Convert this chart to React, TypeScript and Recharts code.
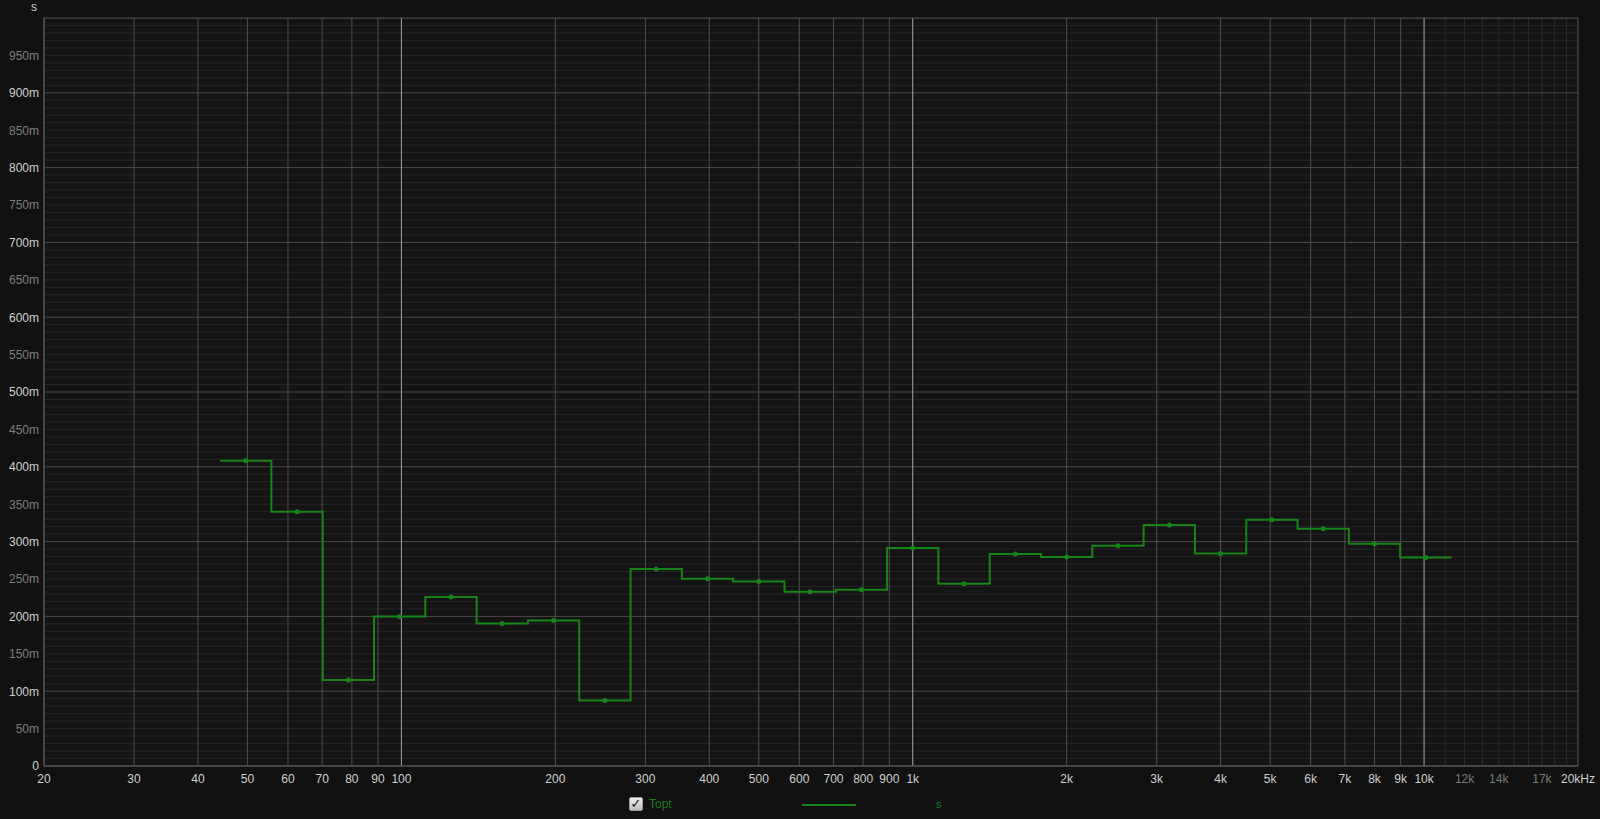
import React from "react";
import {
  ComposedChart,
  Line,
  XAxis,
  YAxis,
  ReferenceLine,
  ReferenceArea,
} from "recharts";

// 1/3-octave band centre frequencies (nominal, Hz)
const bandCenters = [
  50, 63, 80, 100, 125, 160, 200, 250, 315, 400, 500, 630, 800, 1000, 1250,
  1600, 2000, 2500, 3150, 4000, 5000, 6300, 8000, 10000,
];

// Topt values (seconds)
const toptValues = [
  0.408, 0.34, 0.115, 0.2, 0.226, 0.1905, 0.1945, 0.0875, 0.2635, 0.2503,
  0.2467, 0.2329, 0.2356, 0.2914, 0.2436, 0.2834, 0.2794, 0.2945, 0.3222,
  0.2842, 0.3293, 0.3173, 0.2972, 0.2788,
];

// X ticks and labels
const xTicks = [
  20, 30, 40, 50, 60, 70, 80, 90, 100, 200, 300, 400, 500, 600, 700, 800, 900,
  1000, 2000, 3000, 4000, 5000, 6000, 7000, 8000, 9000, 10000, 12000, 14000,
  17000, 20000,
];
const xTickLabels = [
  "20", "30", "40", "50", "60", "70", "80", "90", "100", "200", "300", "400",
  "500", "600", "700", "800", "900", "1k", "2k", "3k", "4k", "5k", "6k", "7k",
  "8k", "9k", "10k", "12k", "14k", "17k", "20kHz",
];
const xDimTicks = [12000, 14000, 17000];

// Y ticks and labels
const yTicks = [
  0, 0.05, 0.1, 0.15, 0.2, 0.25, 0.3, 0.35, 0.4, 0.45, 0.5, 0.55, 0.6, 0.65,
  0.7, 0.75, 0.8, 0.85, 0.9, 0.95,
];
const yTickLabels = [
  "0", "50m", "100m", "150m", "200m", "250m", "300m", "350m", "400m", "450m",
  "500m", "550m", "600m", "650m", "700m", "750m", "800m", "850m", "900m",
  "950m",
];

// Grid line positions
const vBrightGrid = [100, 1000, 10000];
const vGrid = [
  30, 40, 50, 60, 70, 80, 90, 200, 300, 400, 500, 600, 700, 800, 900, 2000,
  3000, 4000, 5000, 6000, 7000, 8000, 9000,
];
const vMinorGrid = [11000, 12000, 13000, 14000, 15000, 16000, 17000, 18000, 19000];
const hMajorGrid = [0.1, 0.2, 0.3, 0.4, 0.5, 0.6, 0.7, 0.8, 0.9];
const hMinorGrid: number[] = [];
for (let i = 1; i < 100; i++) {
  if (i % 10 !== 0) hMinorGrid.push(i / 100);
}

// Exact (base-2) 1/3-octave band frequencies for the nominal centres
const bandIndex = (c: number) => Math.round(3 * Math.log2(c / 1000));
const exactCenter = (c: number) => 1000 * Math.pow(2, bandIndex(c) / 3);

// Derived series: step outline and band-centre dots
const stepData: { f: number; v: number }[] = [];
bandCenters.forEach((c, i) => {
  const k = bandIndex(c);
  const lo = 1000 * Math.pow(2, (k - 0.5) / 3);
  const hi = 1000 * Math.pow(2, (k + 0.5) / 3);
  stepData.push({ f: lo, v: toptValues[i] });
  stepData.push({ f: hi, v: toptValues[i] });
});
const dotData = bandCenters.map((c, i) => ({ f: exactCenter(c), v: toptValues[i] }));

const GREEN = "#168516";
const FONT = "'Liberation Sans', Arial, sans-serif";

const XTick = (props: any) => {
  const { x, y, payload } = props;
  const idx = xTicks.indexOf(payload.value);
  const label = idx >= 0 ? xTickLabels[idx] : String(payload.value);
  const dim = xDimTicks.includes(payload.value);
  return (
    <text
      x={x}
      y={y}
      dy="0.71em"
      textAnchor="middle"
      fill={dim ? "#7a7a7a" : "#cfcfcf"}
      fontSize={12}
      fontFamily={FONT}
    >
      {label}
    </text>
  );
};

const YTick = (props: any) => {
  const { x, y, payload } = props;
  const idx = yTicks.findIndex((t) => Math.abs(t - payload.value) < 1e-9);
  const label = idx >= 0 ? yTickLabels[idx] : String(payload.value);
  const odd = idx % 2 === 1;
  return (
    <text
      x={x}
      y={y}
      dy="0.36em"
      textAnchor="end"
      fill={odd ? "#7e7e7e" : "#cfcfcf"}
      fontSize={12}
      fontFamily={FONT}
    >
      {label}
    </text>
  );
};

export default function App() {
  return (
    <div
      style={{
        position: "absolute",
        left: 0,
        top: 0,
        width: 1600,
        height: 819,
        background: "#111111",
        fontFamily: FONT,
        overflow: "hidden",
      }}
    >
      <ComposedChart
        width={1600}
        height={819}
        margin={{ top: 18, right: 22, bottom: 28, left: 0 }}
      >
        <XAxis
          xAxisId={0}
          type="number"
          dataKey="f"
          scale="log"
          domain={[20, 20000]}
          allowDataOverflow
          ticks={xTicks}
          interval={0}
          tick={<XTick />}
          tickLine={false}
          tickSize={6}
          tickMargin={2}
          axisLine={{ stroke: "#575757" }}
          height={25}
        />
        <YAxis
          yAxisId={0}
          type="number"
          domain={[0, 1]}
          allowDataOverflow
          ticks={yTicks}
          interval={0}
          tick={<YTick />}
          tickLine={false}
          tickSize={3}
          tickMargin={2}
          axisLine={{ stroke: "#575757" }}
          width={44}
        />
        <ReferenceArea
          x1={20}
          x2={20000}
          y1={0}
          y2={1}
          fill="#141414"
          fillOpacity={1}
          stroke="none"
        />
        {hMinorGrid.map((v) => (
          <ReferenceLine key={"hm" + v} y={v} stroke="#262626" strokeWidth={1} />
        ))}
        {vMinorGrid.map((f) => (
          <ReferenceLine key={"vm" + f} x={f} stroke="#2c2c2c" strokeWidth={1} />
        ))}
        {hMajorGrid.map((v) => (
          <ReferenceLine key={"hM" + v} y={v} stroke="#4a4a4a" strokeWidth={1} />
        ))}
        {vGrid.map((f) => (
          <ReferenceLine key={"vg" + f} x={f} stroke="#4e4e4e" strokeWidth={1} />
        ))}
        {vBrightGrid.map((f) => (
          <ReferenceLine key={"vb" + f} x={f} stroke="#a8a8a8" strokeWidth={1} />
        ))}
        <ReferenceLine y={1} stroke="#575757" strokeWidth={1} />
        <ReferenceLine x={20000} stroke="#575757" strokeWidth={1} />
        <ReferenceLine y={0} stroke="#575757" strokeWidth={1} />
        <ReferenceLine x={20} stroke="#575757" strokeWidth={1} />
        <Line
          data={stepData}
          dataKey="v"
          type="linear"
          stroke={GREEN}
          strokeWidth={2}
          dot={false}
          isAnimationActive={false}
        />
        <Line
          data={dotData}
          dataKey="v"
          type="linear"
          stroke="none"
          dot={{ r: 2.5, fill: GREEN, stroke: "none" }}
          activeDot={false}
          isAnimationActive={false}
        />
      </ComposedChart>

      <div
        style={{
          position: "absolute",
          left: 31,
          top: 0,
          fontSize: 12,
          color: "#cfcfcf",
        }}
      >
        s
      </div>

      <div
        style={{
          position: "absolute",
          left: 629,
          top: 797,
          width: 12,
          height: 12,
          border: "1px solid #9a9a9a",
          borderRadius: 2,
          background: "linear-gradient(#f0f0f0, #bdbdbd)",
          color: "#111",
          fontSize: 13,
          lineHeight: "12px",
          textAlign: "center",
          fontWeight: "bold",
          fontFamily: "'DejaVu Sans', sans-serif",
        }}
      >
        ✓
      </div>
      <div
        style={{
          position: "absolute",
          left: 649,
          top: 797,
          fontSize: 12,
          color: "#1f7a1f",
        }}
      >
        Topt
      </div>
      <div
        style={{
          position: "absolute",
          left: 802,
          top: 804,
          width: 54,
          height: 2,
          background: GREEN,
        }}
      />
      <div
        style={{
          position: "absolute",
          left: 936,
          top: 798,
          fontSize: 11,
          color: "#1f7a1f",
        }}
      >
        s
      </div>
    </div>
  );
}
